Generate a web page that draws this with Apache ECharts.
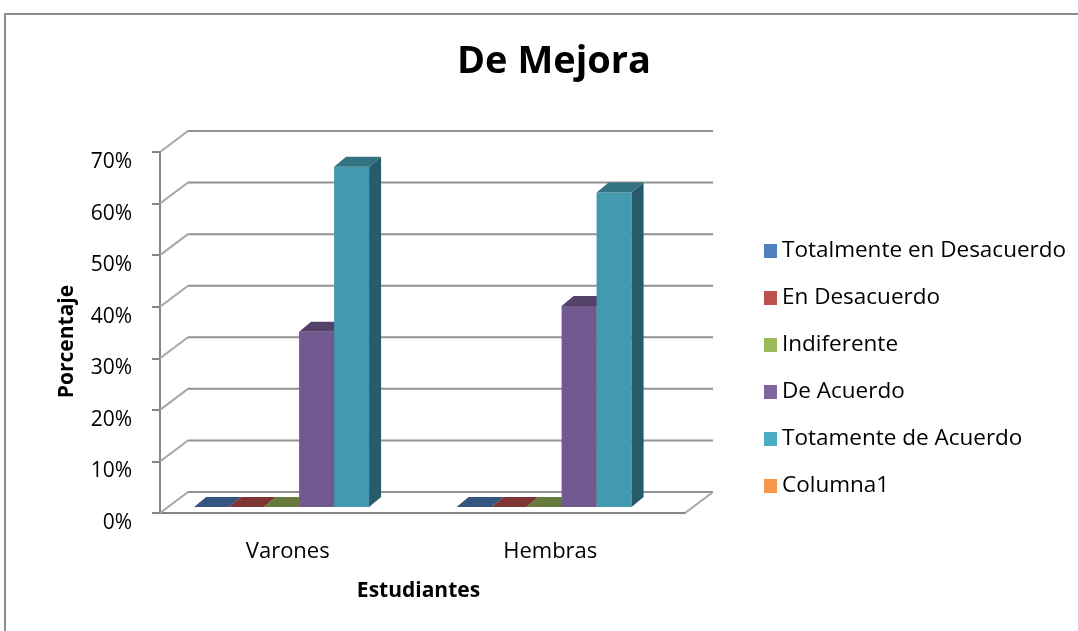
<!DOCTYPE html>
<html>
<head>
<meta charset="utf-8">
<script src="https://cdn.jsdelivr.net/npm/echarts@6/dist/echarts.min.js"></script>
<style>
  html, body { margin: 0; padding: 0; background: #fff; }
  #chart { width: 1078px; height: 631px; }
</style>
</head>
<body>
<div id="chart"></div>
<script>
// datos (porcentajes)
var categories = ['Varones', 'Hembras']
var seriesNames = ['Totalmente en Desacuerdo', 'En Desacuerdo', 'Indiferente', 'De Acuerdo', 'Totamente de Acuerdo', 'Columna1']
var totalDesacuerdo = [0, 0]
var enDesacuerdo = [0, 0]
var indiferente = [0, 0]
var deAcuerdo = [34, 39]
var totalAcuerdo = [66, 61]
var columna1 = []
var yTicks = [0, 10, 20, 30, 40, 50, 60, 70]

var colors = ['#4F81BD', '#C0504D', '#9BBB59', '#8064A2', '#4BACC6', '#F79646']
var FONT = 'Open Sans'

// profundidad del "3D"
var WALL_DX = 28, WALL_DY = -21
var F0 = 0.28
var BAR_DX = 12, BAR_DY = -10

function shade(hex, k) {
  var n = parseInt(hex.slice(1), 16)
  var r = Math.round(((n >> 16) & 255) * k)
  var g = Math.round(((n >> 8) & 255) * k)
  var b = Math.round((n & 255) * k)
  return 'rgb(' + r + ',' + g + ',' + b + ')'
}

function wallItem(params, api) {
  var cs = params.coordSys
  var v = api.value(1)
  var y = api.coord([0, v])[1]
  var x0 = cs.x, x1 = cs.x + cs.width
  var children = [
    { type: 'line', shape: { x1: x0, y1: y, x2: x0 + WALL_DX, y2: y + WALL_DY },
      style: { stroke: '#a6a6a6', lineWidth: 2 } },
    { type: 'line', shape: { x1: x0 + WALL_DX, y1: y + WALL_DY, x2: x1 + WALL_DX, y2: y + WALL_DY },
      style: { stroke: '#929292', lineWidth: 2 } }
  ]
  if (v === 0) {
    children.push({ type: 'line', shape: { x1: x1, y1: y, x2: x1 + WALL_DX, y2: y + WALL_DY },
      style: { stroke: '#a6a6a6', lineWidth: 2 } })
  }
  return { type: 'group', children: children }
}

function makeBar(slot) {
  var base = colors[slot]
  return function (params, api) {
    var cat = api.value(0)
    var v = api.value(1)
    var p0 = api.coord([cat, 0])
    var p1 = api.coord([cat, v])
    var w = api.size([1, 0])[0] / 7.5
    var x = p0[0] - 3 * w + slot * w + WALL_DX * F0
    var yb = p0[1] + WALL_DY * F0
    var yt = p1[1] + WALL_DY * F0
    return {
      type: 'group',
      children: [
        { type: 'rect', shape: { x: x, y: yt, width: w, height: yb - yt },
          style: { fill: shade(base, 0.89) } },
        { type: 'polygon', shape: { points: [[x, yt], [x + w, yt], [x + w + BAR_DX, yt + BAR_DY], [x + BAR_DX, yt + BAR_DY]] },
          style: { fill: shade(base, 0.66) } },
        { type: 'polygon', shape: { points: [[x + w, yt], [x + w, yb], [x + w + BAR_DX, yb + BAR_DY], [x + w + BAR_DX, yt + BAR_DY]] },
          style: { fill: shade(base, 0.53) } }
      ]
    }
  }
}

var seriesValues = [totalDesacuerdo, enDesacuerdo, indiferente, deAcuerdo, totalAcuerdo, columna1]

var series = [{
  type: 'custom',
  name: 'muros',
  silent: true,
  z: 1,
  renderItem: wallItem,
  encode: { x: 0, y: 1 },
  data: yTicks.map(function (t) { return [0, t] })
}]
seriesValues.forEach(function (vals, i) {
  series.push({
    type: 'custom',
    name: seriesNames[i],
    z: 2,
    itemStyle: { color: colors[i] },
    renderItem: makeBar(i),
    encode: { x: 0, y: 1 },
    data: vals.map(function (v, j) { return [j, v] })
  })
})

var chart = echarts.init(document.getElementById('chart'))
chart.setOption({
  animation: false,
  backgroundColor: '#fff',
  title: {
    text: 'De Mejora',
    left: 549,
    top: 38,
    textAlign: 'center',
    textStyle: { fontFamily: FONT, fontSize: 38, fontWeight: 'bold', color: '#000' }
  },
  graphic: [{
    type: 'rect',
    shape: { x: 5, y: 14, width: 1200, height: 800 },
    style: { fill: 'none', stroke: '#8c8c8c', lineWidth: 2 },
    silent: true
  }],
  legend: {
    orient: 'vertical',
    left: 759,
    top: 234,
    icon: 'rect',
    itemWidth: 13,
    itemHeight: 14,
    itemGap: 23,
    data: seriesNames,
    textStyle: { fontFamily: FONT, fontSize: 22.5, color: '#000', lineHeight: 24 }
  },
  grid: { left: 160, right: 393, top: 152, bottom: 118 },
  xAxis: {
    type: 'category',
    data: categories,
    name: 'Estudiantes',
    nameLocation: 'middle',
    nameGap: 66,
    nameTextStyle: { fontFamily: FONT, fontSize: 21, fontWeight: 'bold', color: '#000', lineHeight: 24, padding: [0, 8, 0, 0] },
    axisLine: { lineStyle: { color: '#868686', width: 2 } },
    axisTick: { show: false },
    axisLabel: { fontFamily: FONT, fontSize: 22, color: '#000', margin: 27, lineHeight: 24, padding: [0, 7, 0, 0] }
  },
  yAxis: {
    type: 'value',
    min: 0,
    max: 70,
    interval: 10,
    name: 'Porcentaje',
    nameLocation: 'middle',
    nameRotate: 90,
    nameGap: 82,
    nameTextStyle: { fontFamily: FONT, fontSize: 21, fontWeight: 'bold', color: '#000', padding: [0, 18, 0, 0] },
    axisLine: { show: true, lineStyle: { color: '#868686', width: 2 } },
    axisTick: { show: true, length: 8, lineStyle: { color: '#868686', width: 2 } },
    splitLine: { show: false },
    axisLabel: {
      fontFamily: FONT, fontSize: 21, color: '#000', margin: 28,
      verticalAlign: 'top', lineHeight: 20,
      formatter: '{value}%'
    }
  },
  series: series
})
</script>
</body>
</html>
